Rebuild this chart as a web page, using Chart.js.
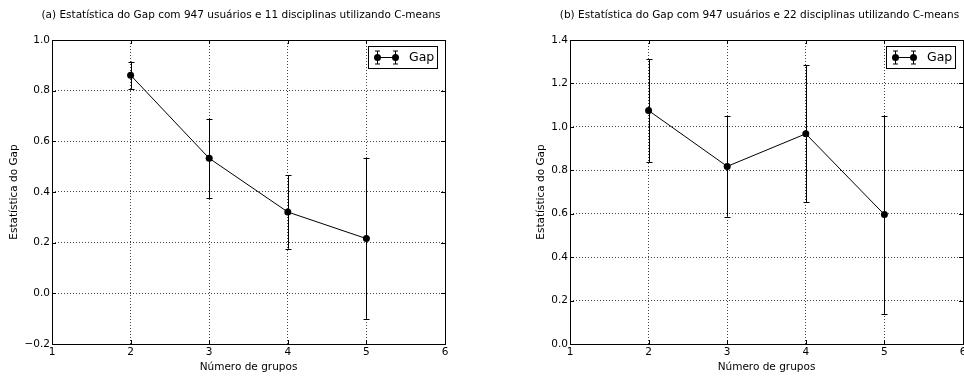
<!DOCTYPE html>
<html><head><meta charset="utf-8">
<script src="https://cdn.jsdelivr.net/npm/chart.js@4"></script>
<style>
html,body{margin:0;padding:0;background:#fff;overflow:hidden;width:964px;height:376px;position:relative;}
#a{position:absolute;left:0;top:0;}
#b{position:absolute;left:519px;top:0;}
</style></head><body>
<canvas id="a" width="482" height="376"></canvas>
<canvas id="b" width="481" height="376"></canvas>
<script>
// ---- data ----
const groups = [2, 3, 4, 5];
const gapA = [0.861, 0.533, 0.321, 0.216];
const errA = [0.054, 0.157, 0.145, 0.317];
const gapB = [1.075, 0.818, 0.968, 0.596];
const errB = [0.237, 0.232, 0.315, 0.456];
const xTicks = [1, 2, 3, 4, 5, 6];
const yTicksA = [-0.2, 0.0, 0.2, 0.4, 0.6, 0.8, 1.0];
const yTicksB = [0.0, 0.2, 0.4, 0.6, 0.8, 1.0, 1.2, 1.4];
const titleA = "(a) Estatística do Gap com 947 usuários e 11 disciplinas utilizando C-means";
const titleB = "(b) Estatística do Gap com 947 usuários e 22 disciplinas utilizando C-means";
const xLabel = "Número de grupos";
const yLabel = "Estatística do Gap";
const seriesLabel = "Gap";

const FONT = "'DejaVu Sans', sans-serif";

const errorBars = {
  id: 'errorBars',
  afterDatasetsDraw(chart) {
    const {ctx, scales: {x, y}} = chart;
    chart.data.datasets.forEach(ds => {
      if (!ds.errors) return;
      ctx.save();
      ctx.strokeStyle = '#000';
      ctx.lineWidth = 1;
      ds.data.forEach((p, i) => {
        const e = ds.errors[i];
        const px = Math.round(x.getPixelForValue(p.x)) + 0.5;
        const yt = y.getPixelForValue(p.y + e);
        const yb = y.getPixelForValue(p.y - e);
        ctx.beginPath();
        ctx.moveTo(px, yt); ctx.lineTo(px, yb);
        ctx.moveTo(px - 3, Math.round(yt) + 0.5); ctx.lineTo(px + 3, Math.round(yt) + 0.5);
        ctx.moveTo(px - 3, Math.round(yb) + 0.5); ctx.lineTo(px + 3, Math.round(yb) + 0.5);
        ctx.stroke();
      });
      ctx.restore();
    });
  }
};

const frameAndLegend = {
  id: 'frameAndLegend',
  afterDraw(chart) {
    const {ctx, chartArea: a, scales: {x, y}} = chart;
    ctx.save();
    ctx.strokeStyle = '#000';
    ctx.lineWidth = 1;
    // inward ticks
    ctx.beginPath();
    x.ticks.forEach(t => {
      const px = Math.round(x.getPixelForValue(t.value)) + 0.5;
      ctx.moveTo(px, a.bottom); ctx.lineTo(px, a.bottom - 4);
      ctx.moveTo(px, a.top); ctx.lineTo(px, a.top + 4);
    });
    y.ticks.forEach(t => {
      const py = Math.round(y.getPixelForValue(t.value)) + 0.5;
      ctx.moveTo(a.left, py); ctx.lineTo(a.left + 4, py);
      ctx.moveTo(a.right, py); ctx.lineTo(a.right - 4, py);
    });
    ctx.stroke();
    // frame
    ctx.strokeRect(Math.round(a.left) + 0.5, Math.round(a.top) + 0.5,
                   Math.round(a.right - a.left) - 1 + 1, Math.round(a.bottom - a.top));
    // legend
    const ds = chart.data.datasets[0];
    const w = 70, h = 23;
    const lx = Math.round(a.right) - 7 - w, ly = Math.round(a.top) + 6;
    ctx.fillStyle = '#fff';
    ctx.fillRect(lx, ly, w, h);
    ctx.strokeRect(lx + 0.5, ly + 0.5, w - 1, h - 1);
    const cy = ly + h / 2;
    const x1 = lx + 9.5, x2 = lx + 27.5;
    ctx.beginPath();
    ctx.moveTo(x1, cy); ctx.lineTo(x2, cy);
    [x1, x2].forEach(xx => {
      ctx.moveTo(xx, cy - 6.5); ctx.lineTo(xx, cy + 6.5);
      ctx.moveTo(xx - 2.5, cy - 6.5); ctx.lineTo(xx + 2.5, cy - 6.5);
      ctx.moveTo(xx - 2.5, cy + 6.5); ctx.lineTo(xx + 2.5, cy + 6.5);
    });
    ctx.stroke();
    ctx.fillStyle = '#000';
    [x1, x2].forEach(xx => { ctx.beginPath(); ctx.arc(xx, cy, 3.5, 0, Math.PI * 2); ctx.fill(); });
    ctx.font = "12.5px " + FONT;
    ctx.textBaseline = 'middle';
    ctx.textAlign = 'left';
    ctx.fillText(ds.label, lx + 41, cy + 0.5);
    ctx.restore();
  }
};

function fmt(v) { return v.toFixed(1).replace('-', '\u2212'); }

function makeChart(id, title, gap, err, yTicks, yAxisW, yTitlePad) {
  return new Chart(document.getElementById(id), {
    type: 'line',
    data: {
      datasets: [{
        label: seriesLabel,
        data: groups.map((g, i) => ({x: g, y: gap[i]})),
        errors: err,
        borderColor: '#000',
        borderWidth: 1,
        pointRadius: 3.5,
        pointBackgroundColor: '#000',
        pointBorderWidth: 0,
        tension: 0,
        fill: false
      }]
    },
    options: {
      responsive: false,
      animation: false,
      devicePixelRatio: 1,
      layout: {padding: 0},
      plugins: {
        legend: {display: false},
        tooltip: {enabled: false},
        title: {
          display: true, text: title, color: '#000',
          font: {family: FONT, size: 10.5, weight: 'normal', lineHeight: 1.2},
          padding: {top: 9.2, bottom: 18.2}
        }
      },
      scales: {
        x: {
          type: 'linear', min: xTicks[0], max: xTicks[xTicks.length - 1],
          afterBuildTicks: s => { s.ticks = xTicks.map(v => ({value: v})); },
          afterFit: s => { s.height = 32; s.paddingLeft = 0; s.paddingRight = 37; },
          ticks: {color: '#000', padding: 2, font: {family: FONT, size: 10.5},
                  callback: v => String(v), maxRotation: 0, autoSkip: false},
          grid: {color: '#444', lineWidth: 1, drawTicks: false},
          border: {display: false, dash: [1, 2]},
          title: {display: true, text: xLabel, color: '#000',
                  font: {family: FONT, size: 10.5, lineHeight: 1.2}, padding: {top: 0, bottom: 2.7}}
        },
        y: {
          type: 'linear', min: yTicks[0], max: yTicks[yTicks.length - 1],
          afterBuildTicks: s => { s.ticks = yTicks.map(v => ({value: v})); },
          afterFit: s => { s.width = yAxisW; s.paddingTop = 0; s.paddingBottom = 0; },
          ticks: {color: '#000', padding: 2, font: {family: FONT, size: 10.5},
                  callback: v => fmt(v), autoSkip: false},
          grid: {color: '#444', lineWidth: 1, drawTicks: false},
          border: {display: false, dash: [1, 2]},
          title: {display: true, text: yLabel, color: '#000',
                  font: {family: FONT, size: 10.5, lineHeight: 1.2}, padding: {top: yTitlePad, bottom: 0}}
        }
      }
    },
    plugins: [errorBars, frameAndLegend]
  });
}

makeChart('a', titleA, gapA, errA, yTicksA, 52, 8.2);
makeChart('b', titleB, gapB, errB, yTicksB, 51, 15.7);
</script>
</body></html>
